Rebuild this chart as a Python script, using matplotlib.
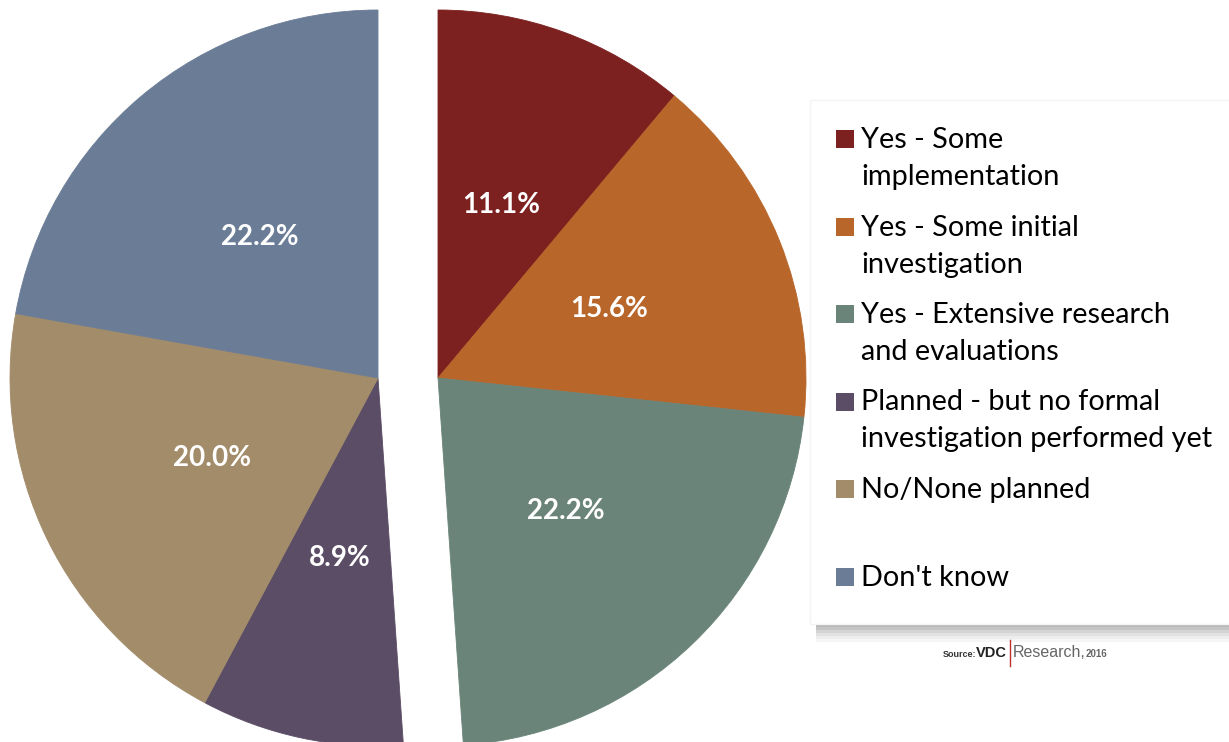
import matplotlib.pyplot as plt
from matplotlib.patches import Rectangle

# survey answers, clockwise from 12 o'clock
categories = ["Yes - Some\nimplementation",
              "Yes - Some initial\ninvestigation",
              "Yes - Extensive research\nand evaluations",
              "Planned - but no formal\ninvestigation performed yet",
              "No/None planned\n ",
              "Don't know"]
shares = [11.1, 15.6, 22.2, 8.9, 20.0, 22.2]
colors = ["#7C2120", "#B8662A", "#6A8479", "#5B4D65", "#A28C6A", "#6A7C96"]

W, H = 1229, 742
fig = plt.figure(figsize=(W / 100, H / 100), dpi=100)
ax = fig.add_axes([0, 0, 1, 1])

cx, cy, R = 408, 364, 368
wedges, texts, autotexts = ax.pie(
    shares, colors=colors, startangle=90, counterclock=False,
    radius=R, center=(cx, cy), autopct="%1.1f%%", pctdistance=0.5,
    wedgeprops=dict(linewidth=0.6),
    textprops=dict(color="white", fontsize=20, fontweight="bold", family="Lato"))

# split the pie in two halves: the "yes" group to the right, the rest to the left
for i, w in enumerate(wedges):
    dx = 30 if i < 3 else -30
    w.set_center((cx + dx, cy))
    w.set_edgecolor(colors[i])
    x, y = autotexts[i].get_position()
    autotexts[i].set_position((x + dx, y))

ax.set_xlim(0, W)
ax.set_ylim(0, H)
ax.set_aspect("equal")
ax.axis("off")

# legend box with a soft shadow underneath
bx, btop, bbot = 810, H - 100, H - 624
for k, a in enumerate([0.5, 0.4, 0.3, 0.2, 0.12, 0.06]):
    ax.add_patch(Rectangle((bx + 6, bbot - 3 * (k + 1)), W, 3, color="#707070",
                           alpha=a, lw=0, zorder=3))
ax.add_patch(Rectangle((bx, bbot), W, btop - bbot, facecolor="white",
                       edgecolor="#f4f4f4", lw=1, zorder=4))

for i, (lab, col) in enumerate(zip(categories, colors)):
    base = H - (148 + 87.5 * i)
    ax.add_patch(Rectangle((836, base), 18, 18, color=col, lw=0, zorder=5))
    for j, line in enumerate(lab.split("\n")):
        ax.text(861, base - 37 * j, line, fontsize=20.8, family="Lato",
                color="black", va="baseline", ha="left", zorder=6)

# source credit
ax.add_patch(Rectangle((942, H - 668), 172, 26, color="white", lw=0, zorder=5))
ax.text(943, H - 657, "Source:", fontsize=6.5, fontweight="bold",
        family="Liberation Sans", color="#333333", zorder=6)
ax.text(976, H - 657, "VDC", fontsize=10.5, fontweight="bold",
        family="Liberation Sans", color="#222222", zorder=6)
ax.plot([1010, 1010], [H - 666, H - 640], color="#C0302A", lw=1, zorder=6)
ax.text(1013, H - 657, "Research,", fontsize=11.5,
        family="Liberation Sans", color="#666666", zorder=6)
ax.text(1086, H - 657, "2016", fontsize=7, fontweight="bold",
        family="Liberation Sans", color="#666666", zorder=6)

fig.savefig("out.png", dpi=100)
